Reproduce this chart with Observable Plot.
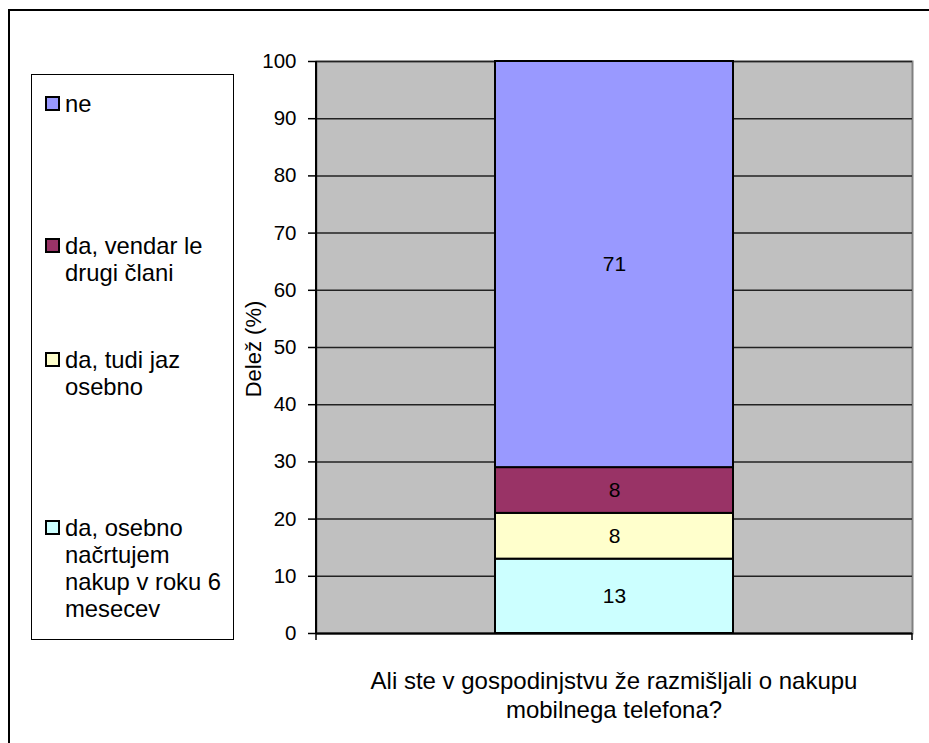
<!DOCTYPE html>
<html><head><meta charset="utf-8">
<script src="https://cdn.jsdelivr.net/npm/d3@7"></script>
<script src="https://cdn.jsdelivr.net/npm/@observablehq/plot@0.6"></script>
<style>
html,body{margin:0;padding:0;background:#fff;overflow:hidden;}
body{width:929px;height:743px;position:relative;font-family:"Liberation Sans",Arial,sans-serif;color:#000;}
#frame{position:absolute;left:8px;top:9px;width:1000px;height:1000px;border:2px solid #000;box-sizing:border-box;}
#chart{position:absolute;left:0;top:0;}
#legend{position:absolute;left:31px;top:74px;width:203px;height:566px;border:1px solid #000;box-sizing:border-box;background:#fff;}
.item{position:absolute;left:13px;font-size:23.8px;line-height:27px;white-space:pre;padding-left:20px;}
.sw{position:absolute;left:0;top:6px;width:15px;height:15px;border:2px solid #000;box-sizing:border-box;}
#ytitle{position:absolute;left:254px;top:349px;font-size:22px;white-space:nowrap;transform:translate(-50%,-50%) rotate(-90deg);}
#xtitle{position:absolute;left:614px;top:666px;font-size:24px;line-height:29px;white-space:pre;text-align:center;transform:translateX(-50%);}
</style>
</head><body>
<div id="frame"></div>
<div id="chart"></div>
<div id="legend"></div>
<div id="ytitle"></div>
<div id="xtitle"></div>
<script>
// ---- data ----
const question = "Ali ste v gospodinjstvu že razmišljali o nakupu mobilnega telefona?";
const xTitleLines = ["Ali ste v gospodinjstvu že razmišljali o nakupu", "mobilnega telefona?"];
const yTitle = "Delež (%)";
const categories = [
  "da, osebno\nnačrtujem\nnakup v roku 6\nmesecev",
  "da, tudi jaz\nosebno",
  "da, vendar le\ndrugi člani",
  "ne"
];
const values = [13, 8, 8, 71];
const yTicks = [0, 10, 20, 30, 40, 50, 60, 70, 80, 90, 100];
// ---- styles ----
const colors = ["#CCFFFF", "#FFFFCC", "#993366", "#9999FF"];
const legendTops = [439, 271, 157, 15]; // layout offsets of legend entries inside the box

const data = categories.map((c, i) => ({q: question, cat: c, v: values[i]}));

const plot = Plot.plot({
  width: 929, height: 743,
  marginLeft: 316, marginRight: 17, marginTop: 61, marginBottom: 110,
  style: {fontFamily: "'Liberation Sans', Arial, sans-serif", fontSize: "20.5px", background: "transparent", color: "#000", overflow: "visible"},
  x: {domain: [question], paddingInner: 0, paddingOuter: 0.75, axis: null},
  y: {domain: [0, 100], axis: null},
  color: {domain: categories, range: colors},
  marks: [
    Plot.frame({fill: "#C0C0C0", stroke: "#808080", strokeWidth: 2}),
    Plot.gridY(yTicks, {stroke: "#222", strokeOpacity: 1, strokeWidth: 1.5}),
    Plot.axisY(yTicks, {tickSize: 8, tickPadding: 12, label: null, stroke: "#000", strokeWidth: 1.5}),
    Plot.ruleY([0], {stroke: "#000", strokeWidth: 2}),
    Plot.barY(data, {x: "q", y: "v", z: "cat", fill: "cat", stroke: "#000", strokeWidth: 2}),
    Plot.text(data, Plot.stackY({x: "q", y: "v", z: "cat", text: d => String(d.v), fontSize: 21, fill: "#000"}))
  ]
});

// axis line on the left and the end ticks of the category axis, from the plot's own scales
const xs = plot.scale("x").range, ys = plot.scale("y").range;
const svg = d3.select(plot);
svg.append("line").attr("x1", xs[0]).attr("x2", xs[0]).attr("y1", ys[0]).attr("y2", ys[1])
  .attr("stroke", "#000").attr("stroke-width", 2);
for (const x of xs) {
  svg.append("line").attr("x1", x).attr("x2", x).attr("y1", ys[0]).attr("y2", ys[0] + 7)
    .attr("stroke", "#000").attr("stroke-width", 1.5);
}
document.getElementById("chart").appendChild(plot);

// legend
const legend = d3.select("#legend");
categories.forEach((c, i) => {
  const it = legend.append("div").attr("class", "item").style("top", legendTops[i] + "px");
  it.append("div").attr("class", "sw").style("background", colors[i]);
  it.append("span").text(c);
});

d3.select("#ytitle").text(yTitle);
d3.select("#xtitle").text(xTitleLines.join("\n"));
</script>
</body></html>
